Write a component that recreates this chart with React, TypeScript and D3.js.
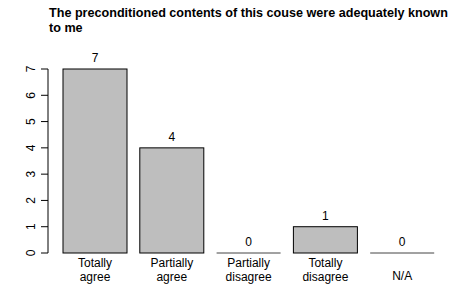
import React from "react";
import * as d3 from "d3";

const categories = [["Totally", "agree"], ["Partially", "agree"], ["Partially", "disagree"], ["Totally", "disagree"], ["N/A"]];
const values = [7, 4, 0, 1, 0];
const yTicks = [0, 1, 2, 3, 4, 5, 6, 7];
const titleLines = ["The preconditioned contents of this couse were adequately known", "to me"];

export default function App() {
  const W = 468, H = 288;
  const x = d3.scaleLinear().domain([0.2, 6.0]).range([63, 434.2]);
  const y = d3.scaleLinear().domain([0, 7]).range([253, 69]);
  const font = "Liberation Sans, Arial, Helvetica, sans-serif";
  return (
    <svg width={W} height={H} style={{ position: "absolute", left: 0, top: 0 }} fontFamily={font}>
      <rect x={0} y={0} width={W} height={H} fill="#fff" />
      {titleLines.map((t, i) => (
        <text key={i} x={49} y={17.3 + i * 14.4} fontSize={12.6} fontWeight="bold" fill="#000">{t}</text>
      ))}
      <line x1={48} x2={48} y1={y(0)} y2={y(7)} stroke="#000" strokeWidth={1} />
      {yTicks.map((t) => (
        <g key={t}>
          <line x1={41} x2={48} y1={y(t)} y2={y(t)} stroke="#000" strokeWidth={1} />
          <text transform={`translate(35,${y(t)}) rotate(-90)`} textAnchor="middle" fontSize={12} fill="#000">{t}</text>
        </g>
      ))}
      {values.map((v, i) => {
        const x0 = x(0.2 + 1.2 * i), x1 = x(1.2 + 1.2 * i);
        const cx = (x0 + x1) / 2;
        return (
          <g key={i}>
            {v > 0 ? (
              <rect x={x0} y={y(v)} width={x1 - x0} height={y(0) - y(v)} fill="#BEBEBE" stroke="#000" strokeWidth={1} />
            ) : (
              <line x1={x0} x2={x1} y1={y(0)} y2={y(0)} stroke="#444" strokeWidth={1} />
            )}
            <text x={cx} y={y(v) - 7} textAnchor="middle" fontSize={12} fill="#000">{v}</text>
            {categories[i].map((c, j) => (
              <text key={j} x={cx} y={categories[i].length === 1 ? 280 : 267 + j * 13.5} textAnchor="middle" fontSize={12} fill="#000">{c}</text>
            ))}
          </g>
        );
      })}
    </svg>
  );
}
